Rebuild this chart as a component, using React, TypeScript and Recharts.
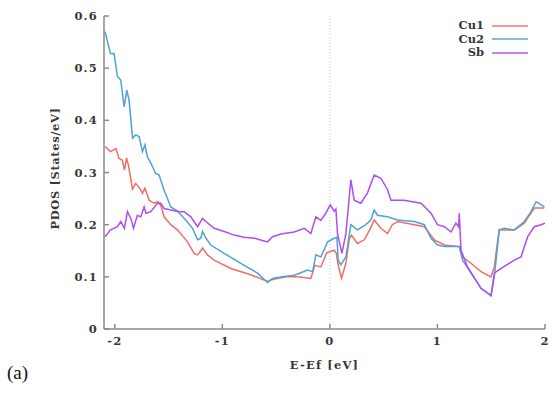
import React from 'react';
import { LineChart, Line, XAxis, YAxis, ReferenceLine, Legend } from 'recharts';

// Energy grid (eV, relative to the Fermi level) and projected DOS per species
const cu1Energy = [
  -2.09, -2.04, -1.99, -1.96, -1.93, -1.91, -1.89, -1.87, -1.835, -1.805, -1.774, -1.742, -1.72,
  -1.68, -1.634, -1.6, -1.57, -1.541, -1.48, -1.417, -1.324, -1.262, -1.23, -1.2, -1.184, -1.138,
  -1.076, -0.921, -0.735, -0.58, -0.55, -0.49, -0.4, -0.3, -0.177, -0.14, -0.084, -0.03, 0.04,
  0.06, 0.075, 0.108, 0.149, 0.18, 0.2, 0.257, 0.32, 0.37, 0.412, 0.474, 0.536, 0.58, 0.63, 0.785,
  0.878, 0.971, 1.064, 1.203, 1.234, 1.312, 1.405, 1.498, 1.529, 1.56, 1.575, 1.715, 1.808, 1.9, 1.994,
];
const cu1Pdos = [
  0.35, 0.34, 0.346, 0.327, 0.324, 0.305, 0.328, 0.311, 0.268, 0.279, 0.272, 0.26, 0.27,
  0.247, 0.241, 0.244, 0.236, 0.215, 0.2, 0.19, 0.167, 0.145, 0.142, 0.15, 0.155, 0.142,
  0.132, 0.116, 0.104, 0.091, 0.094, 0.097, 0.1, 0.1, 0.097, 0.122, 0.119, 0.146, 0.151,
  0.145, 0.125, 0.097, 0.126, 0.172, 0.18, 0.164, 0.171, 0.19, 0.209, 0.193, 0.183, 0.2, 0.206, 0.2,
  0.196, 0.171, 0.161, 0.158, 0.138, 0.126, 0.11, 0.1, 0.119, 0.17, 0.19, 0.19, 0.203, 0.232, 0.232,
];

const cu2Energy = [
  -2.09, -2.04, -2.006, -1.975, -1.944, -1.913, -1.888, -1.867, -1.835, -1.805, -1.774, -1.742,
  -1.72, -1.696, -1.665, -1.619, -1.588, -1.541, -1.479, -1.417, -1.34, -1.277, -1.23, -1.2,
  -1.184, -1.153, -1.107, -0.983, -0.828, -0.672, -0.58, -0.533, -0.44, -0.33, -0.208, -0.16,
  -0.13, -0.084, -0.021, 0.04, 0.065, 0.077, 0.102, 0.149, 0.195, 0.257, 0.335, 0.381, 0.412,
  0.443, 0.536, 0.63, 0.785, 0.878, 0.94, 1.002, 1.064, 1.157, 1.203, 1.234, 1.312, 1.405, 1.498,
  1.529, 1.575, 1.622, 1.715, 1.808, 1.87, 1.917, 1.994,
];
const cu2Pdos = [
  0.57, 0.528, 0.528, 0.484, 0.477, 0.426, 0.458, 0.439, 0.366, 0.372, 0.369, 0.34,
  0.353, 0.33, 0.318, 0.298, 0.295, 0.266, 0.234, 0.226, 0.209, 0.193, 0.171, 0.174,
  0.187, 0.174, 0.161, 0.145, 0.126, 0.107, 0.089, 0.097, 0.1, 0.103, 0.113, 0.11,
  0.142, 0.138, 0.167, 0.174, 0.176, 0.132, 0.123, 0.138, 0.2, 0.19, 0.2, 0.209, 0.228,
  0.218, 0.215, 0.209, 0.206, 0.2, 0.174, 0.161, 0.158, 0.158, 0.158, 0.132, 0.107, 0.078, 0.064,
  0.101, 0.19, 0.193, 0.19, 0.206, 0.225, 0.244, 0.234,
];

const sbEnergy = [
  -2.09, -2.04, -1.975, -1.944, -1.91, -1.882, -1.85, -1.826, -1.79, -1.758, -1.727, -1.71,
  -1.665, -1.603, -1.572, -1.541, -1.479, -1.4, -1.355, -1.293, -1.23, -1.184, -1.153, -1.076,
  -0.983, -0.89, -0.8, -0.7, -0.58, -0.533, -0.456, -0.332, -0.238, -0.177, -0.13, -0.084,
  -0.037, 0.003, 0.04, 0.056, 0.071, 0.112, 0.149, 0.195, 0.226, 0.288, 0.35, 0.412, 0.474,
  0.536, 0.567, 0.691, 0.847, 0.94, 1.0, 1.064, 1.126, 1.172, 1.197, 1.203, 1.219, 1.28, 1.405,
  1.498, 1.529, 1.591, 1.715, 1.777, 1.839, 1.9, 1.963, 2.0,
];
const sbPdos = [
  0.177, 0.19, 0.196, 0.206, 0.193, 0.225, 0.212, 0.193, 0.218, 0.215, 0.234, 0.222,
  0.225, 0.241, 0.241, 0.231, 0.228, 0.225, 0.225, 0.215, 0.196, 0.212, 0.206, 0.193,
  0.187, 0.18, 0.176, 0.174, 0.167, 0.177, 0.182, 0.186, 0.193, 0.183, 0.215, 0.208,
  0.222, 0.238, 0.226, 0.23, 0.183, 0.145, 0.183, 0.286, 0.247, 0.241, 0.261, 0.295, 0.289,
  0.267, 0.247, 0.247, 0.241, 0.222, 0.2, 0.196, 0.186, 0.203, 0.196, 0.222, 0.151, 0.119, 0.078,
  0.064, 0.107, 0.116, 0.132, 0.138, 0.177, 0.196, 0.2, 0.203,
];

const xTicks = [-2, -1, 0, 1, 2];
const yTicks = [0, 0.1, 0.2, 0.3, 0.4, 0.5, 0.6];

const toPoints = (xs: number[], ys: number[]) => xs.map((e, i) => ({ e, pdos: ys[i] }));

const series = [
  { name: 'Cu1', color: '#ef6f68', data: toPoints(cu1Energy, cu1Pdos) },
  { name: 'Cu2', color: '#4fa2d6', data: toPoints(cu2Energy, cu2Pdos) },
  { name: 'Sb', color: '#b04cf2', data: toPoints(sbEnergy, sbPdos) },
];

const serif = '"DejaVu Serif", "Liberation Serif", serif';
const frame = '#8a8a8a';
const textStyle = { fontFamily: serif, fontSize: 11.5, fontWeight: 700, fill: '#383838', letterSpacing: 1.2 };

const LegendBox = () => (
  <div style={{ fontFamily: serif, fontWeight: 700, fontSize: 11.5, color: '#383838' }}>
    {series.map((s) => (
      <div key={s.name} style={{ display: 'flex', alignItems: 'center', justifyContent: 'flex-end', height: 13.5 }}>
        <span style={{ lineHeight: '13px' }}>{s.name}</span>
        <span style={{ display: 'inline-block', width: 36, height: 2, background: s.color, marginLeft: 8, opacity: 0.7 }} />
      </div>
    ))}
  </div>
);

const YTitle = (props: any) => {
  const vb = props.viewBox;
  const cy = vb.y + vb.height / 2 - 4;
  return (
    <text x={55} y={cy} transform={`rotate(-90 55 ${cy})`} textAnchor="middle" dominantBaseline="central"
      style={{ ...textStyle, letterSpacing: 0.6 }}>
      PDOS  [States/eV]
    </text>
  );
};

export default function App() {
  return (
    <div style={{ position: 'absolute', left: 0, top: 0, width: 552, height: 394, background: '#fff' }}>
      <LineChart width={552} height={394} margin={{ top: 16, right: 7, bottom: 0, left: 0 }}>
        <XAxis type="number" dataKey="e" domain={[-2.1, 2]} ticks={xTicks} allowDataOverflow
          height={65} stroke={frame} strokeWidth={1.5} tickSize={-5} tickMargin={13} tick={textStyle}
          label={{ value: 'E-Ef  [eV]', position: 'insideTop', offset: 32, style: textStyle }} />
        <XAxis xAxisId="top" orientation="top" type="number" dataKey="e" domain={[-2.1, 2]} ticks={xTicks}
          allowDataOverflow height={0} stroke={frame} strokeWidth={1.5} tickSize={-5} tickFormatter={() => ''} />
        <YAxis type="number" domain={[0, 0.6]} ticks={yTicks} width={104} stroke={frame} strokeWidth={1.5}
          tickSize={-5} tickMargin={11} tick={textStyle} label={<YTitle />} />
        <YAxis yAxisId="right" orientation="right" type="number" domain={[0, 0.6]} ticks={yTicks} width={0}
          stroke={frame} strokeWidth={1.5} tickSize={-5} tickFormatter={() => ''} />
        <ReferenceLine x={0} stroke="#b5d0ee" strokeDasharray="1 2" strokeWidth={1} />
        {series.map((s) => (
          <Line key={s.name} name={s.name} data={s.data} dataKey="pdos" type="linear" stroke={s.color}
            strokeWidth={1.5} dot={false} isAnimationActive={false} />
        ))}
        <Legend layout="vertical" align="center" verticalAlign="middle" content={<LegendBox />}
          wrapperStyle={{ top: 19, left: 420, width: 108 }} />
      </LineChart>
      <div style={{ position: 'absolute', left: 7, top: 362, fontFamily: '"Liberation Serif", serif', fontSize: 19, color: '#111' }}>(a)</div>
    </div>
  );
}
